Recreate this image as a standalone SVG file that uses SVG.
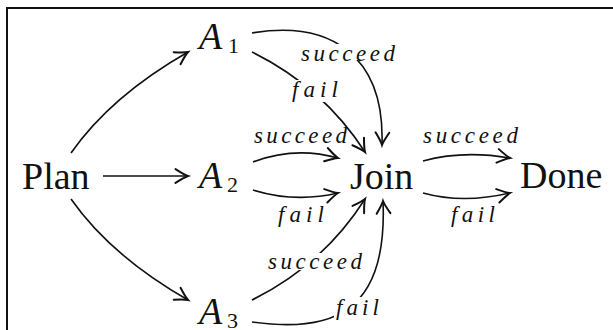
<svg xmlns="http://www.w3.org/2000/svg" width="613" height="330" viewBox="0 0 613 330">
<defs>
<marker id="arr" markerUnits="userSpaceOnUse" markerWidth="20" markerHeight="20" viewBox="-12 -8 14 16" refX="0" refY="0" orient="auto">
<path d="M-10,-5.5 Q-3,-1 0,0 Q-3,1 -10,5.5" fill="none" stroke="#111" stroke-width="1.6" stroke-linecap="round"/>
</marker>
</defs>
<rect width="613" height="330" fill="#fff"/>
<path d="M7,330 V8 H613" fill="none" stroke="#111" stroke-width="2"/>
<g id="connectors" fill="none" stroke="#111" stroke-width="1.6" marker-end="url(#arr)">
<path d="M71,153 Q111,96 188,52"/>
<path d="M103,176 H188"/>
<path d="M71,199 Q111,256 188,300"/>
<path d="M252,33 C330,20 385,55 382,145"/>
<path d="M252,52 Q323,87 365,152"/>
<path d="M253,162 Q295,146 338,158"/>
<path d="M253,190 Q295,203 338,193"/>
<path d="M252,300 Q323,265 365,199"/>
<path d="M252,322 C330,333 388,315 383,201"/>
<path d="M423,161 Q463,150 510,158"/>
<path d="M423,193 Q463,204 510,193"/>
</g>
<g id="labels" font-family="Liberation Serif, serif" font-style="italic" font-size="23" fill="#111">
<g id="l-a1-succeed"><rect x="300" y="44" width="96" height="16" fill="#fff"/><text x="301" y="61" textLength="94" lengthAdjust="spacing">succeed</text></g>
<g id="l-a1-fail"><rect x="290" y="80" width="49" height="22" fill="#fff"/><text x="292" y="97" textLength="46" lengthAdjust="spacing">fail</text></g>
<g id="l-a2-succeed"><text x="254" y="143" textLength="93" lengthAdjust="spacing">succeed</text></g>
<g id="l-a2-fail"><text x="278" y="222" textLength="46" lengthAdjust="spacing">fail</text></g>
<g id="l-a3-succeed"><rect x="267" y="253" width="97" height="17" fill="#fff"/><text x="268" y="269" textLength="94" lengthAdjust="spacing">succeed</text></g>
<g id="l-a3-fail"><rect x="334" y="297" width="46" height="21" fill="#fff"/><text x="336" y="315" textLength="43" lengthAdjust="spacing">fail</text></g>
<g id="l-done-succeed"><text x="423" y="143" textLength="95" lengthAdjust="spacing">succeed</text></g>
<g id="l-done-fail"><text x="451" y="222" textLength="44" lengthAdjust="spacing">fail</text></g>
</g>
<g id="nodes" font-family="Liberation Serif, serif" font-size="38" fill="#111">
<g id="plan"><text x="22" y="189">Plan</text></g>
<g id="a1"><text x="199" y="49" font-style="italic">A</text><text x="228" y="53" font-size="22">1</text></g>
<g id="a2"><text x="199" y="188" font-style="italic">A</text><text x="227" y="192" font-size="22">2</text></g>
<g id="a3"><text x="199" y="324" font-style="italic">A</text><text x="227" y="328" font-size="22">3</text></g>
<g id="join"><text x="350" y="189">Join</text></g>
<g id="done"><text x="520" y="188">Done</text></g>
</g>
</svg>
